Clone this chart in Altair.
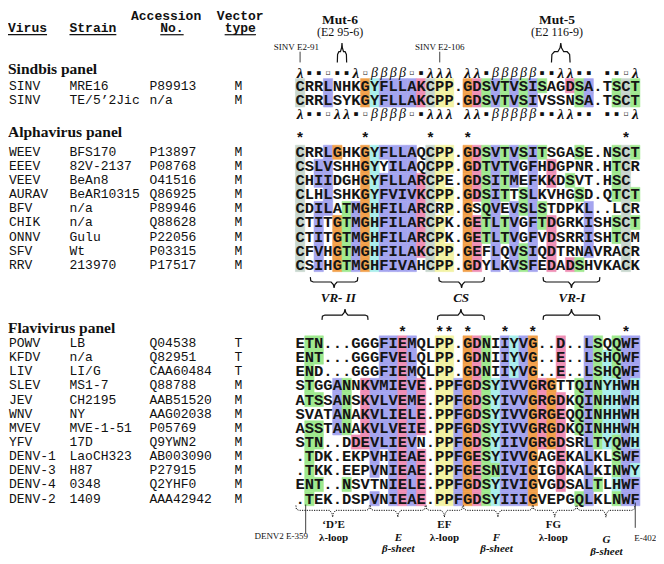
import altair as alt
import pandas as pd

# ---------------- data ----------------
sind_virus = ["SINV", "SINV"]
sind_strain = ["MRE16", "TE/5\u20192Jic"]
sind_acc = ["P89913", "n/a"]
sind_vec = ["M", "M"]
sind_seq = ["CRRLNHKGYFLLAKCPP.GDSVTVSISAGDSA.TSCT",
            "CRRLSYKGYFLLAKCPP.GDSVTVSIVSSNSA.TSCT"]
sind_shade = ["k..b...ocbbbbrkyy.orgbgbgbg..rgb..gkg",
              "k..b...ocbbbbrkyy.orgbgbgb....gb..gkg"]
sind_ss_top = "lssosslobbbboslll llsbbbbbssllss ssol"
sind_ss_bot = "lssollsobbbboslll llsbbbbbssllss ssol"

alpha_virus = ["WEEV", "EEEV", "VEEV", "AURAV", "BFV", "CHIK", "ONNV", "SFV", "RRV"]
alpha_strain = ["BFS170", "82V-2137", "BeAn8", "BeAR10315", "n/a", "n/a", "Gulu", "Wt", "213970"]
alpha_acc = ["P13897", "P08768", "O41516", "Q86925", "P89946", "Q88628", "P22056", "P03315", "P17517"]
alpha_vec = ["M", "M", "M", "M", "M", "M", "M", "M", "M"]
alpha_seq = [
    "CRRLGHKGYFLLAQCPP.GDSVTVSITSGASE.NSCT",
    "CSLVSHHGYYILAQCPP.GDTVTVGFHDGPNR.HTCR",
    "CHIIDGHGYFLLARCPE.GDSITMEFKKDSVT.HSC ",
    "CLHLSHKGYFVIVKCPP.GDSITTSLKVHGSD.QTCT",
    "CDILATMGHFILARCRP.GSQVEVSLSTDPKL..LCR",
    "CTITGTMGHFILARCPK.GETLTVGFTDGRKISHSCT",
    "CTITGTMGHFILARCPK.GETLTVGFVDSRRISHTCM",
    "CFVHGTMGHFILAKCPP.GEFLQVSIQDTRNAVRACR",
    "CSIHGTMGHFIVAHCPP.GDYLKVSFEDADSHVKACK",
]
alpha_shade = [
    "k..bo..ocbbbb.kyy.orgbgbgbg...g...gkg",
    "k.bb...oc.bbb.kyy.orgbgb.b.r......gk.",
    "k.bb...ocbbbbrky..orgbgb.b.r.g....gk.",
    "k..b...ocbbbbrkyy.orgbg.gb....g...gkg",
    "k.bb.gbocbbbbrk.y.o.gb.bgbg....b...k.",
    "k.b.ogbocbbbbrky..orgbgb.bgr...b..gkg",
    "k.b.ogbocbbbbrky..orgbgb.b.r...b..gk.",
    "k.b.ogbocbbbbrkyy.or.b.bgb.r...b...k.",
    "k.b.ogbocbbbb.kyy.or.b.bgb.r.rg....k.",
]
alpha_stars = [0, 7, 14, 18, 35]

flavi_virus = ["POWV", "KFDV", "LIV", "SLEV", "JEV", "WNV", "MVEV", "YFV",
               "DENV-1", "DENV-3", "DENV-4", "DENV-2"]
flavi_strain = ["LB", "n/a", "LI/G", "MS1-7", "CH2195", "NY", "MVE-1-51", "17D",
                "LaoCH323", "H87", "0348", "1409"]
flavi_acc = ["Q04538", "Q82951", "CAA60484", "Q88788", "AAB51520", "AAG02038",
             "P05769", "Q9YWN2", "AB003090", "P27915", "Q2YHF0", "AAA42942"]
flavi_vec = ["T", "T", "T", "M", "M", "M", "M", "M", "M", "M", "M", "M"]
flavi_seq = [
    "ETN...GGGFIEMQLPP.GDNIIYVG..D..LSQQWF",
    "ENT...GGGFVELQLPP.GDNIIYVG..E..LSHQWF",
    "END...GGGFIEMQLPP.GDNIIYVG..E..LSHQWF",
    "STGGANNKVMIEVE.PPFGDSYIVVGRGTTQINYHWH",
    "ATSSANSKVLVEME.PPFGDSYIVVGRGDKQINHHWH",
    "SVATANAKVLIELE.PPFGDSYIVVGRGEQQINHHWH",
    "ASSTANAKVLVEIE.PPFGDSYIVVGRGDKQINHHWH",
    "STN..DDEVLIEVN.PPFGDSYIIVGRGDSRLTYQWH",
    ".TDK.EKPVHIEAE.PPFGESYIVVGAGEKALKLSWF",
    ".TKK.EEPVNIEAE.PPFGESNIVIGIGDKALKINWY",
    "ENT..NSVTNIELE.PPFGDSYIVIGVGDSALTLHWF",
    ".TEK.DSPVNIEAE.PPFGDSYIIIGVEPGQLKLNWF",
]
flavi_shade = [
    ".gg......bbrb..yy.org.bcbo..r..bg.gbb",
    ".gg......bbrb..yy.org.bcbo..r..bgcgbb",
    ".g.......bbrb..yy.org.bcbo..r..bgcgbb",
    ".g..bg.rbbbrbr.yyborgcbbboro..gbgccbc",
    ".gg.bg.rbbbrbr.yyborgcbbboror.gbgccbc",
    "....bg.rbbbrbr.yyborgcbbboror.gbgccbc",
    ".gg.bg.rbbbrbr.yyborgcbbboror.gbgccbc",
    ".gg...rrbbbrb..yyborgcbbboror..bgcgbc",
    ".g......b.brbr.yyborgcbbbo..r..b..gbb",
    ".g......b.brbr.yyborggbbbo..r..b..gbc",
    ".gg..g....brbr.yyborgcbbbo..r..bg.cbb",
    ".g......b.brbr.yyborgcbbbo....gb..gbb",
]
flavi_stars = [11, 15, 16, 18, 22, 25, 35]

shade_codes = ["b", "g", "o", "r", "y", "c", "k"]
shade_colors = ["#a4a4ef", "#9fe98f", "#f1a04a", "#ef8fb5", "#f3f3a4", "#aaefec", "#c8d6ce"]

# ---------------- layout (reference pixel units) ----------------
X0, DX = 299.3, 9.54
def cx(c):
    return X0 + c * DX

panels = [
    (sind_virus, sind_strain, sind_acc, sind_vec, sind_seq, sind_shade, 80.0, 14.6),
    (alpha_virus, alpha_strain, alpha_acc, alpha_vec, alpha_seq, alpha_shade, 148.5, 14.45),
    (flavi_virus, flavi_strain, flavi_acc, flavi_vec, flavi_seq, flavi_shade, 344.7, 14.57),
]
TAB_X = [1, 63, 145, 236]

cells, letters, texts = [], [], []
for vir, strn, acc, vec, seqs, shades, y0, rh in panels:
    for i, (s, sh) in enumerate(zip(seqs, shades)):
        y = y0 + i * rh
        texts += [(vir[i], TAB_X[0], y, "tab"), (strn[i], TAB_X[1], y, "tab"),
                  (acc[i], TAB_X[2], y, "tab"), (vec[i], TAB_X[3], y, "tabc")]
        for j, (ch, code) in enumerate(zip(s, sh)):
            if code != ".":
                cells.append(dict(x0=cx(j) - DX / 2, x1=cx(j) + DX / 2,
                                  y0=y - rh / 2, y1=y + rh / 2, code=code))
            if ch != " ":
                letters.append(dict(x=cx(j), y=y, t=ch))

# Sindbis secondary-structure rows
sym = {"l": ("\u03bb", "lam"), "b": ("\u03b2", "beta"), "s": ("\u25aa", "sq"), "o": ("\u25ab", "sq")}
for row, yy in ((sind_ss_top, 66.5), (sind_ss_bot, 109.5)):
    for j, c in enumerate(row):
        if c in sym:
            texts.append((sym[c][0], cx(j), yy, sym[c][1]))

for j in alpha_stars:
    texts.append(("*", cx(j), 131, "star"))
for j in flavi_stars:
    texts.append(("*", cx(j), 330, "star"))

texts += [
    ("Accession", 162, 8, "headc"), ("Vector", 238, 8, "headc"),
    ("Virus", 0, 21, "head"), ("Strain", 63, 21, "head"),
    ("No.", 168, 21, "headc"), ("type", 238, 21, "headc"),
    ("Sindbis panel", 0, 63, "panel"), ("Alphavirus panel", 0, 128, "panel"),
    ("Flavivirus panel", 0, 329, "panel"),
    ("Mut-6", cx(4.3), 12, "mut"), ("(E2 95-6)", cx(4.3), 25, "mutsub"),
    ("Mut-5", cx(27.6), 12, "mut"), ("(E2 116-9)", cx(27.6), 25, "mutsub"),
    ("SINV E2-91", cx(-0.4), 40, "tiny"), ("SINV E2-106", cx(15), 40, "tiny"),
    ("VR- II", cx(4.1), 298, "vr"), ("CS", cx(17.3), 298, "vr"), ("VR-I", cx(29.2), 298, "vr"),
    ("\u2018D\u2019E", cx(3.6), 532, "bl"), ("\u03bb-loop", cx(3.6), 545, "bl"),
    ("E", cx(10.55), 545, "bli"), ("\u03b2-sheet", cx(10.55), 557, "bli"),
    ("EF", cx(15.5), 532, "bl"), ("\u03bb-loop", cx(15.5), 545, "bl"),
    ("F", cx(21.1), 545, "bli"), ("\u03b2-sheet", cx(21.1), 557, "bli"),
    ("FG", cx(27.2), 532, "bl"), ("\u03bb-loop", cx(27.2), 545, "bl"),
    ("G", cx(32.9), 548, "bli"), ("\u03b2-sheet", cx(32.9), 560, "bli"),
    ("DENV2 E-359", 280, 543, "tiny"), ("E-402", 653, 545, "tiny"),
]

# underline rules for the header
underl = []
for word, x, al in (("Virus", 0, "l"), ("Strain", 63, "l"), ("No.", 168, "c"), ("type", 238, "c")):
    w = len(word) * 8.0
    xs = x if al == "l" else x - w / 2
    underl.append(dict(x=xs, x2=xs + w, y=27.5))

ticks = [dict(x=cx(0), y=45, y2=56), dict(x=cx(15), y=45, y2=56),
         dict(x=cx(0.6), y=511, y2=541), dict(x=cx(36), y=509, y2=535)]

# braces
def brace(gid, x0, x1, yb, leg, tip, d):
    xm = (x0 + x1) / 2
    bar = yb + d * leg
    t = bar + d * tip
    r = min(3.0, (x1 - x0) / 6)
    pts = [(x0, yb), (x0 + 0.15 * r, yb + d * 0.75 * leg), (x0 + r, bar), (xm - r, bar),
           (xm - 0.25 * r, bar + d * 0.45 * tip), (xm, t), (xm + 0.25 * r, bar + d * 0.45 * tip),
           (xm + r, bar), (x1 - r, bar), (x1 - 0.15 * r, yb + d * 0.75 * leg), (x1, yb)]
    return [dict(g=gid, o=k, x=px, y=py) for k, (px, py) in enumerate(pts)]

solid, dotted = [], []
solid += brace("m6", cx(4), cx(5), 56, 11, 9, -1)
solid += brace("m5", cx(27), cx(29), 56, 11, 9, -1)
for k, (a, b) in enumerate(((1.1, 6.2), (14.9, 19.8), (26.1, 32.2))):
    solid += brace("u%d" % k, cx(a), cx(b), 277, 5, 6, 1)
for k, (a, b) in enumerate(((2.35, 7.3), (14.75, 19.8), (26.1, 32.2))):
    solid += brace("d%d" % k, cx(a), cx(b), 321, 5, 6, -1)
for k, (a, b) in enumerate(((-0.5, 7.5), (7.5, 13.5), (13.5, 17.5), (17.5, 25.0), (25.0, 29.7), (29.7, 36.0))):
    dotted += brace("b%d" % k, cx(a) + 0.5, cx(b) - 0.5, 512, 5, 7, 1)

# ---------------- chart ----------------
XS = alt.Scale(domain=[0, 664], nice=False, zero=False)
YS = alt.Scale(domain=[0, 564], nice=False, zero=False, reverse=True)
CS = alt.Scale(domain=shade_codes, range=shade_colors)

def X(f):
    return alt.X(f, type="quantitative", scale=XS, axis=None)

def Y(f):
    return alt.Y(f, type="quantitative", scale=YS, axis=None)

layers = []
layers.append(alt.Chart(pd.DataFrame(cells)).mark_rect(strokeWidth=0.6).encode(
    x=X("x0"), x2="x1", y=Y("y0"), y2="y1",
    color=alt.Color("code:N", scale=CS, legend=None),
    stroke=alt.Stroke("code:N", scale=CS, legend=None)))

layers.append(alt.Chart(pd.DataFrame(letters)).mark_text(
    font="Liberation Mono", fontSize=15.5, fontWeight="bold", align="center",
    baseline="middle", color="#151515").encode(x=X("x"), y=Y("y"), text="t:N"))

styles = {
    "tab": dict(font="Liberation Mono", fontSize=13, align="left"),
    "tabc": dict(font="Liberation Mono", fontSize=13, align="center"),
    "head": dict(font="Liberation Mono", fontSize=13, fontWeight="bold", align="left"),
    "headc": dict(font="Liberation Mono", fontSize=13, fontWeight="bold", align="center"),
    "panel": dict(font="Liberation Serif", fontSize=15.5, fontWeight="bold", align="left"),
    "mut": dict(font="Liberation Serif", fontSize=13.5, fontWeight="bold", align="center"),
    "mutsub": dict(font="Liberation Serif", fontSize=12, align="center"),
    "tiny": dict(font="Liberation Serif", fontSize=9, align="center"),
    "lam": dict(font="Liberation Serif", fontSize=15, fontWeight="bold", fontStyle="italic", align="center"),
    "beta": dict(font="Liberation Serif", fontSize=14, fontStyle="italic", align="center"),
    "sq": dict(font="DejaVu Sans", fontSize=7.5, align="center"),
    "star": dict(font="Liberation Mono", fontSize=15, fontWeight="bold", align="center", dy=3),
    "vr": dict(font="Liberation Serif", fontSize=13, fontWeight="bold", fontStyle="italic", align="center"),
    "bl": dict(font="Liberation Serif", fontSize=11, fontWeight="bold", align="center"),
    "bli": dict(font="Liberation Serif", fontSize=11, fontWeight="bold", fontStyle="italic", align="center"),
}
tdf = pd.DataFrame(texts, columns=["t", "x", "y", "s"])
for s, props in styles.items():
    sub = tdf[tdf.s == s]
    if len(sub):
        layers.append(alt.Chart(sub).mark_text(baseline="middle", color="#111", **props).encode(
            x=X("x"), y=Y("y"), text="t:N"))

layers.append(alt.Chart(pd.DataFrame(underl)).mark_rule(color="#111", strokeWidth=1.2).encode(
    x=X("x"), x2="x2", y=Y("y")))
layers.append(alt.Chart(pd.DataFrame(ticks)).mark_rule(color="#111", strokeWidth=0.8).encode(
    x=X("x"), y=Y("y"), y2="y2"))
layers.append(alt.Chart(pd.DataFrame(solid)).mark_line(color="#111", strokeWidth=1.2).encode(
    x=X("x"), y=Y("y"), detail="g:N", order="o:Q"))
layers.append(alt.Chart(pd.DataFrame(dotted)).mark_line(color="#111", strokeWidth=1, strokeDash=[1.2, 1.2]).encode(
    x=X("x"), y=Y("y"), detail="g:N", order="o:Q"))

chart = alt.layer(*layers).properties(
    width=648, height=548, padding=0,
    autosize=alt.AutoSizeParams(type="none"),
).configure_view(stroke=None)

chart.save("out.html", embed_options={"renderer": "svg", "actions": False})
